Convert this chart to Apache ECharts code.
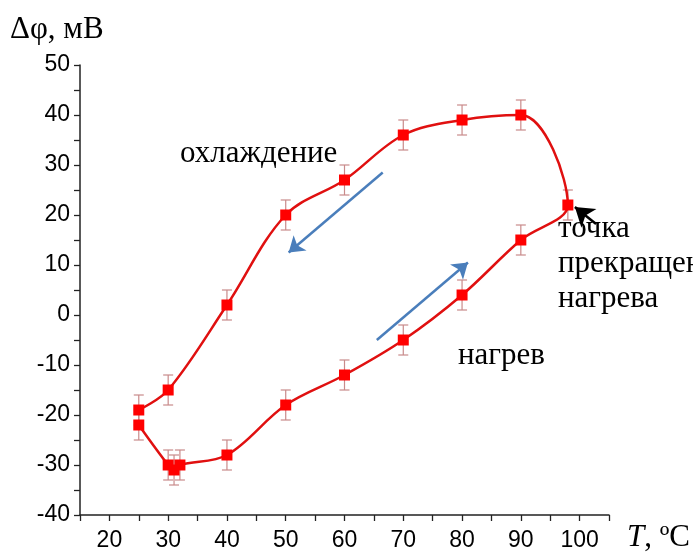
<!DOCTYPE html>
<html>
<head>
<meta charset="utf-8">
<script src="https://cdn.jsdelivr.net/npm/echarts@6/dist/echarts.min.js"></script>
<style>
  html, body { margin: 0; padding: 0; background: #fff; }
  #chart { width: 693px; height: 557px; }
</style>
</head>
<body>
<div id="chart"></div>
<script>
// === Данные (петля: нагрев, затем охлаждение)
const temps  = [25, 30, 31, 32, 40, 50, 60, 70, 80, 90, 98, 90, 80, 70, 60, 50, 40, 30, 25];
const deltas = [-22, -30, -31, -30, -28, -18, -12, -5, 4, 15, 22, 40, 39, 36, 27, 20, 2, -15, -19];
const errors = [3, 3, 3, 3, 3, 3, 3, 3, 3, 3, 3, 3, 3, 3, 3, 3, 3, 3, 3];

// стрелки-подписи, [x, y] в единицах осей
const coolArrow = [[66.5, 28.5], [50.5, 12.5]];
const heatArrow = [[65.5, -5], [81, 10.5]];
const stopArrow = [[102.8, 18.2], [99.2, 21.6]];

const xTicks = [20, 30, 40, 50, 60, 70, 80, 90, 100];
const yTicks = [-40, -30, -20, -10, 0, 10, 20, 30, 40, 50];

const points = temps.map((t, i) => [t, deltas[i]]);
const errData = temps.map((t, i) => [t, deltas[i] - errors[i], deltas[i] + errors[i]]);

const chart = echarts.init(document.getElementById('chart'));

const serif = '"Liberation Serif", "Times New Roman", serif';
const sans = '"Liberation Sans", Arial, sans-serif';

function arrowLine(pts, color, curve, size) {
    return [
        { coord: pts[0], symbol: 'none', lineStyle: { color: color, width: 2.5, type: 'solid', curveness: curve } },
        { coord: pts[1], symbol: 'arrow', symbolSize: size, itemStyle: { color: color } }
    ];
}

chart.setOption({
    animation: false,
    grid: { left: 80, right: 84, top: 65, bottom: 42 },
    xAxis: {
        type: 'value', min: 15, max: 105, interval: 5,
        axisLine: { onZero: false, lineStyle: { color: '#222', width: 1.5 } },
        axisTick: { length: 6, lineStyle: { color: '#222', width: 1.3 } },
        axisLabel: {
            color: '#000', fontFamily: sans, fontSize: 23, margin: 14,
            formatter: v => xTicks.includes(v) ? String(v) : ''
        },
        splitLine: { show: false }
    },
    yAxis: {
        type: 'value', min: -40, max: 50, interval: 5,
        axisLine: { show: true, lineStyle: { color: '#222', width: 1.5 } },
        axisTick: { show: true, length: 6, lineStyle: { color: '#222', width: 1.3 } },
        axisLabel: {
            color: '#000', fontFamily: sans, fontSize: 23, margin: 10,
            formatter: v => yTicks.includes(v) ? String(v) : ''
        },
        splitLine: { show: false }
    },
    graphic: [
        { type: 'text', left: 10, top: 14, style: { text: 'Δφ, мВ', font: '31px ' + serif, fill: '#000' } },
        { type: 'text', left: 627, top: 522,
          style: { text: '{i|T}, ºC', rich: { i: { font: 'italic 31px ' + serif } }, font: '31px ' + serif, fill: '#000' } },
        { type: 'text', left: 180, top: 138, style: { text: 'охлаждение', font: '31px ' + serif, fill: '#000' } },
        { type: 'text', left: 458, top: 340, style: { text: 'нагрев', font: '31px ' + serif, fill: '#000' } },
        { type: 'text', left: 558, top: 211, style: { text: 'точка\nпрекращения\nнагрева', font: '31px ' + serif, lineHeight: 35, fill: '#000' } }
    ],
    series: [
        {
            type: 'custom',
            data: errData,
            z: 1,
            renderItem: function (params, api) {
                const lo = api.coord([api.value(0), api.value(1)]);
                const hi = api.coord([api.value(0), api.value(2)]);
                const w = 5;
                const st = { stroke: '#c98a8a', lineWidth: 1.2 };
                return {
                    type: 'group',
                    children: [
                        { type: 'line', shape: { x1: lo[0], y1: lo[1], x2: hi[0], y2: hi[1] }, style: st },
                        { type: 'line', shape: { x1: lo[0] - w, y1: lo[1], x2: lo[0] + w, y2: lo[1] }, style: st },
                        { type: 'line', shape: { x1: hi[0] - w, y1: hi[1], x2: hi[0] + w, y2: hi[1] }, style: st }
                    ]
                };
            }
        },
        {
            type: 'line',
            data: points,
            smooth: 0.35,
            z: 3,
            symbol: 'rect',
            symbolSize: 11,
            itemStyle: { color: '#ff0000' },
            lineStyle: { color: '#e01010', width: 2.5 },
            markLine: {
                silent: true,
                symbol: ['none', 'arrow'],
                symbolSize: 14,
                label: { show: false },
                data: [
                    arrowLine(coolArrow, '#4a7ebb', 0, 15),
                    arrowLine(heatArrow, '#4a7ebb', 0, 15),
                    arrowLine(stopArrow, '#000', 0.35, 18)
                ]
            }
        }
    ]
});
</script>
</body>
</html>
